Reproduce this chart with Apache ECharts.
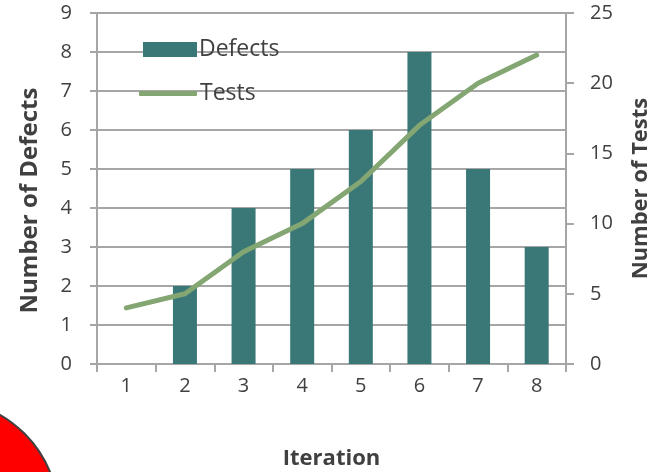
<!DOCTYPE html>
<html>
<head>
<meta charset="utf-8">
<script src="https://cdn.jsdelivr.net/npm/echarts@6/dist/echarts.min.js"></script>
<style>html,body{margin:0;padding:0;background:#fff}#c{width:664px;height:472px}</style>
</head>
<body>
<div id="c"></div>
<script>
const categories = ['1','2','3','4','5','6','7','8'];
const defects = [0, 2, 4, 5, 6, 8, 5, 3];
const tests = [4, 5, 8, 10, 13, 17, 20, 22];

const FONT = '"Open Sans", sans-serif';
const TXT = '#404040';
const GRID = '#a6a6a6';
const BAR = '#3a7777';
const LINE = '#83a673';

const chart = echarts.init(document.getElementById('c'));
chart.setOption({
  animation: false,
  grid: { left: 97, right: 98, top: 13, bottom: 108, containLabel: false, outerBoundsMode: 'none' },
  legend: [
    {
      orient: 'vertical', left: 138, top: 33,
      itemWidth: 54, itemHeight: 15,
      textStyle: { fontFamily: FONT, fontSize: 23, color: TXT, padding: [0,0,0,-3] },
      data: [{ name: 'Defects', icon: 'rect' }]
    },
    {
      orient: 'vertical', left: 134, top: 77,
      itemWidth: 58, itemHeight: 5,
      textStyle: { fontFamily: FONT, fontSize: 23, color: TXT, padding: [0,0,0,-2] },
      data: [{ name: 'Tests', icon: 'roundRect' }]
    }
  ],
  xAxis: {
    type: 'category', data: categories,
    name: 'Iteration', nameLocation: 'middle', nameGap: 84,
    nameTextStyle: { fontFamily: FONT, fontSize: 22, fontWeight: 'bold', color: TXT },
    axisLine: { lineStyle: { color: GRID, width: 2 } },
    axisTick: { show: true, length: 8, lineStyle: { color: GRID, width: 2 } },
    axisLabel: { fontFamily: FONT, fontSize: 20, color: TXT, margin: 12 }
  },
  yAxis: [
    {
      type: 'value', min: 0, max: 9, interval: 1,
      name: 'Number of Defects', nameLocation: 'middle', nameGap: 55,
      nameTextStyle: { fontFamily: FONT, fontSize: 24, fontWeight: 'bold', color: TXT, padding: [0, 24, 0, 0] },
      axisLine: { show: true, lineStyle: { color: GRID, width: 2 } },
      axisTick: { show: true, length: 7, lineStyle: { color: GRID, width: 2 } },
      axisLabel: { fontFamily: FONT, fontSize: 20, color: TXT, margin: 25 },
      splitLine: { show: true, lineStyle: { color: GRID, width: 2 } }
    },
    {
      type: 'value', min: 0, max: 25, interval: 5, position: 'right',
      name: 'Number of Tests', nameLocation: 'middle', nameGap: 64,
      nameTextStyle: { fontFamily: FONT, fontSize: 22, fontWeight: 'bold', color: TXT },
      axisLine: { show: true, lineStyle: { color: GRID, width: 2 } },
      axisTick: { show: true, length: 8, lineStyle: { color: GRID, width: 2 } },
      axisLabel: { fontFamily: FONT, fontSize: 20, color: TXT, margin: 24 },
      splitLine: { show: false }
    }
  ],
  series: [
    {
      name: 'Defects', type: 'bar', data: defects, yAxisIndex: 0,
      barWidth: 24, itemStyle: { color: BAR }
    },
    {
      name: 'Tests', type: 'line', data: tests, yAxisIndex: 1,
      symbol: 'none', smooth: false,
      lineStyle: { color: LINE, width: 5, cap: 'round', join: 'round' },
      itemStyle: { color: LINE }
    }
  ],
  graphic: [
    {
      type: 'circle', shape: { cx: -59, cy: 517, r: 118 },
      style: { fill: '#ff0000', stroke: '#404040', lineWidth: 2 }, z: 100
    }
  ]
});
</script>
</body>
</html>
